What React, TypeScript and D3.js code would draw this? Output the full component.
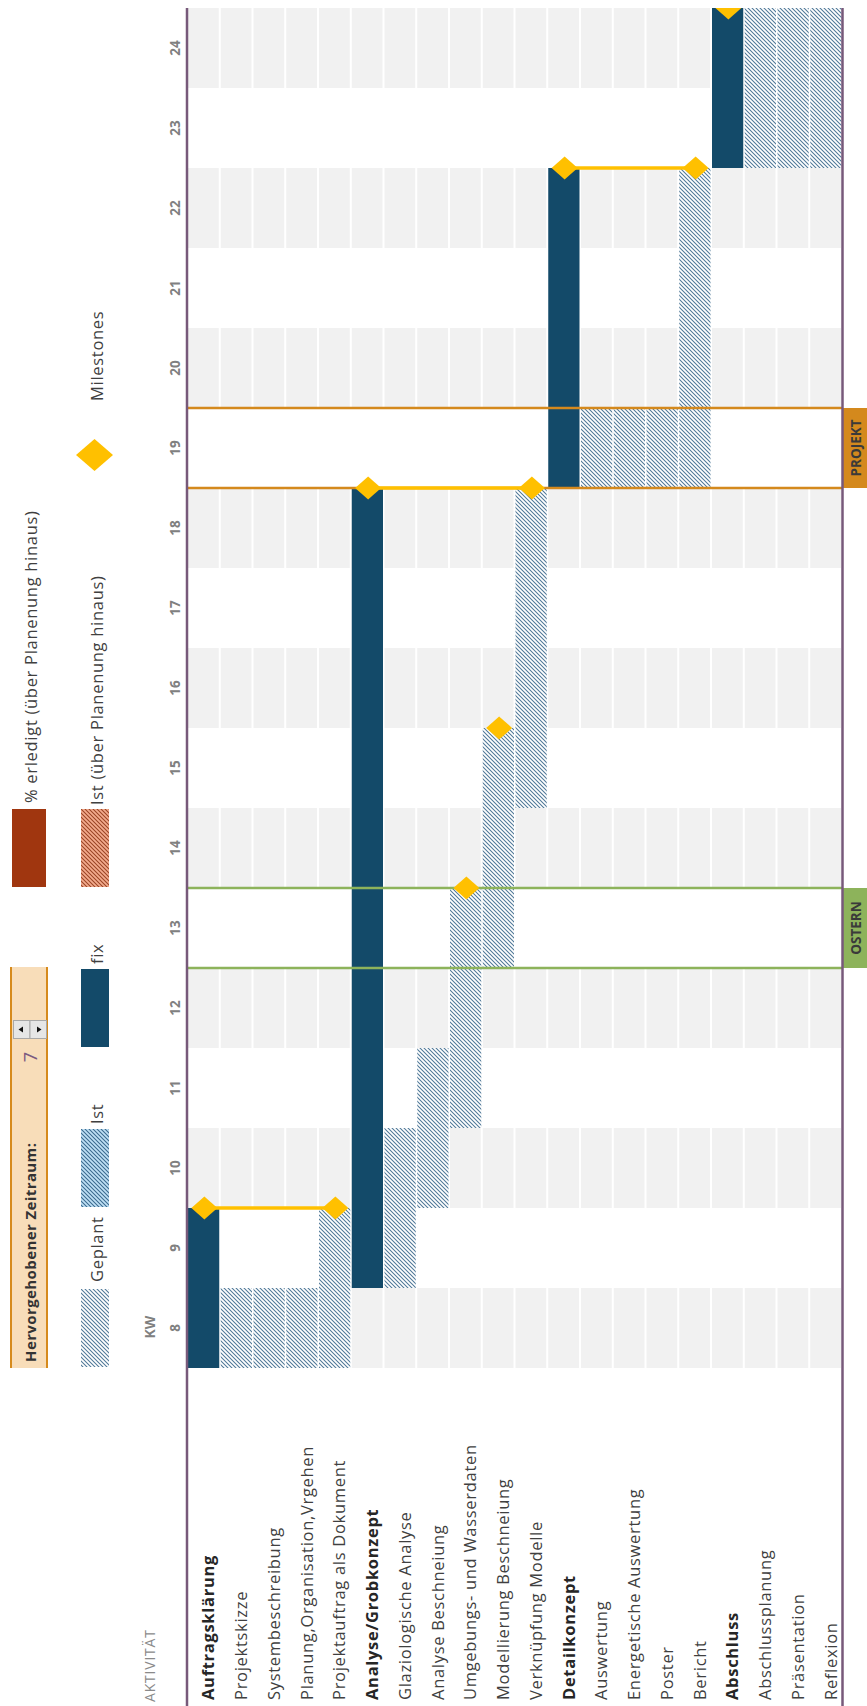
import React from 'react';
import * as d3 from 'd3';

const activities = [
  'Auftragsklärung', 'Projektskizze', 'Systembeschreibung', 'Planung,Organisation,Vrgehen',
  'Projektauftrag als Dokument', 'Analyse/Grobkonzept', 'Glaziologische Analyse', 'Analyse Beschneiung',
  'Umgebungs- und Wasserdaten', 'Modellierung Beschneiung', 'Verknüpfung Modelle', 'Detailkonzept',
  'Auswertung', 'Energetische Auswertung', 'Poster', 'Bericht', 'Abschluss', 'Abschlussplanung',
  'Präsentation', 'Reflexion',
];
const phaseRows = ['Auftragsklärung', 'Analyse/Grobkonzept', 'Detailkonzept', 'Abschluss'];
const barKind = ['fix', 'plan', 'plan', 'plan', 'plan', 'fix', 'plan', 'plan', 'plan', 'plan', 'plan',
  'fix', 'plan', 'plan', 'plan', 'plan', 'fix', 'plan', 'plan', 'plan'];
const startWeek = [8, 8, 8, 8, 8, 9, 9, 10, 11, 13, 15, 19, 19, 19, 19, 19, 23, 23, 23, 23];
const endWeek = [9, 8, 8, 8, 9, 18, 10, 11, 13, 15, 18, 22, 19, 19, 19, 22, 24, 24, 24, 24];
const milestoneWeek: (number | null)[] = [9, null, null, null, 9, 18, null, null, 13, 15, 18, 22, null, null, null, 22, 24, null, null, null];
const milestoneLinks = [[0, 4], [5, 10], [11, 15]];
const weekTicks = ['8', '9', '10', '11', '12', '13', '14', '15', '16', '17', '18', '19', '20', '21', '22', '23', '24'];
const highlightWeeks = [13, 19];
const highlightLabels = ['OSTERN', 'PROJEKT'];
const highlightColors = ['#8db35b', '#d4891d'];

const FONT = "'Open Sans', 'Noto Sans', sans-serif";
const NAVY = '#134a69';
const GOLD = '#ffc000';
const PURPLE = '#77597a';

export default function App() {
  const W = 867, H = 1706;
  const y = d3.scaleLinear().domain([8, 25]).range([1368, 8]);
  const x = d3.scaleBand<string>().domain(activities).range([187, 842]);
  const bw = x.bandwidth();
  const weeks = weekTicks.map(Number);
  const diamond = (cx: number, cy: number, hw: number, hh: number) =>
    `M${cx - hw},${cy} L${cx},${cy - hh} L${cx + hw},${cy} L${cx},${cy + hh} Z`;
  const vt = (tx: number, ty: number) => `translate(${tx},${ty}) rotate(-90)`;
  const LS = 0.7;

  return (
    <svg width={W} height={H} style={{ position: 'absolute', left: 0, top: 0, background: '#fff' }} fontFamily={FONT}>
      <defs>
        <pattern id="plan" patternUnits="userSpaceOnUse" width="4" height="4">
          <rect width="4" height="4" fill="#ffffff" />
          <path d="M-1,-1 L5,5 M-1,3 L1,5 M3,-1 L5,1" stroke="#4f7898" strokeWidth="1.05" />
        </pattern>
        <pattern id="ist" patternUnits="userSpaceOnUse" width="4" height="4">
          <rect width="4" height="4" fill="#bfe0f5" />
          <path d="M-1,-1 L5,5 M-1,3 L1,5 M3,-1 L5,1" stroke="#3a6a8e" strokeWidth="1.05" />
        </pattern>
        <pattern id="istover" patternUnits="userSpaceOnUse" width="4" height="4">
          <rect width="4" height="4" fill="#f3ab8e" />
          <path d="M-1,-1 L5,5 M-1,3 L1,5 M3,-1 L5,1" stroke="#9a4424" strokeWidth="1.05" />
        </pattern>
        <clipPath id="chartClip">
          <rect x={x.range()[0]} y={y(25)} width={x.range()[1] - x.range()[0]} height={y(8) - y(25)} />
        </clipPath>
      </defs>

      {/* alternating gray week bands */}
      {weeks.filter(w => w % 2 === 0).map(w =>
        activities.map(a => (
          <rect key={`g${w}${a}`} x={(x(a) as number) + 1} y={y(w + 1)} width={bw - 2} height={y(w) - y(w + 1)} fill="#f1f1f1" />
        ))
      )}

      {/* bars */}
      {activities.map((a, i) => (
        <rect key={`b${i}`} x={(x(a) as number) + 1} y={y(endWeek[i] + 1)} width={bw - 1.5}
          height={y(startWeek[i]) - y(endWeek[i] + 1)}
          fill={barKind[i] === 'fix' ? NAVY : 'url(#plan)'} />
      ))}

      {/* highlight lines */}
      {highlightWeeks.map((w, k) => (
        <g key={`h${k}`}>
          <line x1={187} x2={843} y1={y(w)} y2={y(w)} stroke={highlightColors[k]} strokeWidth={2.5} />
          <line x1={187} x2={843} y1={y(w + 1)} y2={y(w + 1)} stroke={highlightColors[k]} strokeWidth={2.5} />
          <rect x={843} y={y(w + 1)} width={24} height={y(w) - y(w + 1)} fill={highlightColors[k]} />
          <text transform={vt(861, (y(w) + y(w + 1)) / 2)} textAnchor="middle" fontSize={13.5} fontWeight={700} fill="#3a3a3a">
            {highlightLabels[k]}
          </text>
        </g>
      ))}

      {/* milestone links and diamonds */}
      <g clipPath="url(#chartClip)">
        {milestoneLinks.map(([a, b], k) => (
          <line key={`l${k}`} x1={(x(activities[a]) as number) + bw / 2} x2={(x(activities[b]) as number) + bw / 2}
            y1={y((milestoneWeek[a] as number) + 1)} y2={y((milestoneWeek[b] as number) + 1)}
            stroke={GOLD} strokeWidth={3.5} />
        ))}
        {activities.map((a, i) => milestoneWeek[i] == null ? null : (
          <path key={`m${i}`} d={diamond((x(a) as number) + bw / 2 + 1, y((milestoneWeek[i] as number) + 1), 13, 11.5)} fill={GOLD} />
        ))}
      </g>

      {/* frame lines */}
      <line x1={187} x2={187} y1={8} y2={H} stroke={PURPLE} strokeWidth={2.5} />
      <line x1={842.5} x2={842.5} y1={8} y2={H} stroke={PURPLE} strokeWidth={2.5} />

      {/* week ticks */}
      {weekTicks.map((t, k) => (
        <text key={`t${k}`} transform={vt(180, (y(weeks[k]) + y(weeks[k] + 1)) / 2)} textAnchor="middle"
          fontSize={13.5} fontWeight={700} fill="#808080">{t}</text>
      ))}
      <text transform={vt(155, 1327)} textAnchor="middle" fontSize={14} fontWeight={700} fill="#808080">KW</text>
      <text transform={vt(155, 1702)} fontSize={14} letterSpacing={0.8} fill="#8a8a8a">AKTIVITÄT</text>

      {/* activity labels */}
      {activities.map((a, i) => (
        <text key={`a${i}`} transform={vt((x(a) as number) + bw / 2 + 11, 1700)} fontSize={16.5} letterSpacing={LS}
          fontWeight={phaseRows.includes(a) ? 700 : 400} fill={phaseRows.includes(a) ? '#262626' : '#404040'}>
          {a}
        </text>
      ))}

      {/* header box */}
      <rect x={10} y={967} width={38} height={401} fill="#f8ddb9" />
      <line x1={11} x2={11} y1={967} y2={1368} stroke="#d68a1c" strokeWidth={2} />
      <line x1={47} x2={47} y1={967} y2={1368} stroke="#d68a1c" strokeWidth={2} />
      <text transform={vt(36, 1362)} fontSize={15} letterSpacing={0.4} fontWeight={700} fill="#333">Hervorgehobener Zeitraum:</text>
      <text transform={vt(37, 1057)} textAnchor="middle" fontSize={18} fill="#7b5a80">7</text>
      <g>
        <rect x={13.5} y={1020.5} width={16.5} height={18} fill="#e6e6e6" stroke="#a8a8a8" />
        <rect x={30} y={1020.5} width={16.5} height={18} fill="#e6e6e6" stroke="#a8a8a8" />
        <path d="M18.5,1029.5 L23,1026.5 L23,1032.5 Z" fill="#111" />
        <path d="M41.5,1029.5 L37,1026.5 L37,1032.5 Z" fill="#111" />
      </g>

      {/* legend */}
      <rect x={81} y={1289} width={28} height={78} fill="url(#plan)" />
      <text transform={vt(103, 1282)} fontSize={16.5} letterSpacing={LS} fill="#404040">Geplant</text>
      <rect x={81} y={1129} width={28} height={78} fill="url(#ist)" />
      <text transform={vt(103, 1124)} fontSize={16.5} letterSpacing={LS} fill="#404040">Ist</text>
      <rect x={81} y={969} width={28} height={78} fill={NAVY} />
      <text transform={vt(103, 964)} fontSize={16.5} letterSpacing={LS} fill="#404040">fix</text>
      <rect x={81} y={809} width={28} height={78} fill="url(#istover)" />
      <text transform={vt(103, 805)} fontSize={16.5} letterSpacing={LS} fill="#404040">Ist (über Planenung hinaus)</text>
      <rect x={12} y={809} width={34} height={78} fill="#a0360f" />
      <text transform={vt(37, 803)} fontSize={16.5} letterSpacing={LS} fill="#404040">% erledigt (über Planenung hinaus)</text>
      <path d={diamond(94.5, 455, 18.5, 16)} fill={GOLD} />
      <text transform={vt(103, 401)} fontSize={16.5} letterSpacing={LS} fill="#404040">Milestones</text>
    </svg>
  );
}
